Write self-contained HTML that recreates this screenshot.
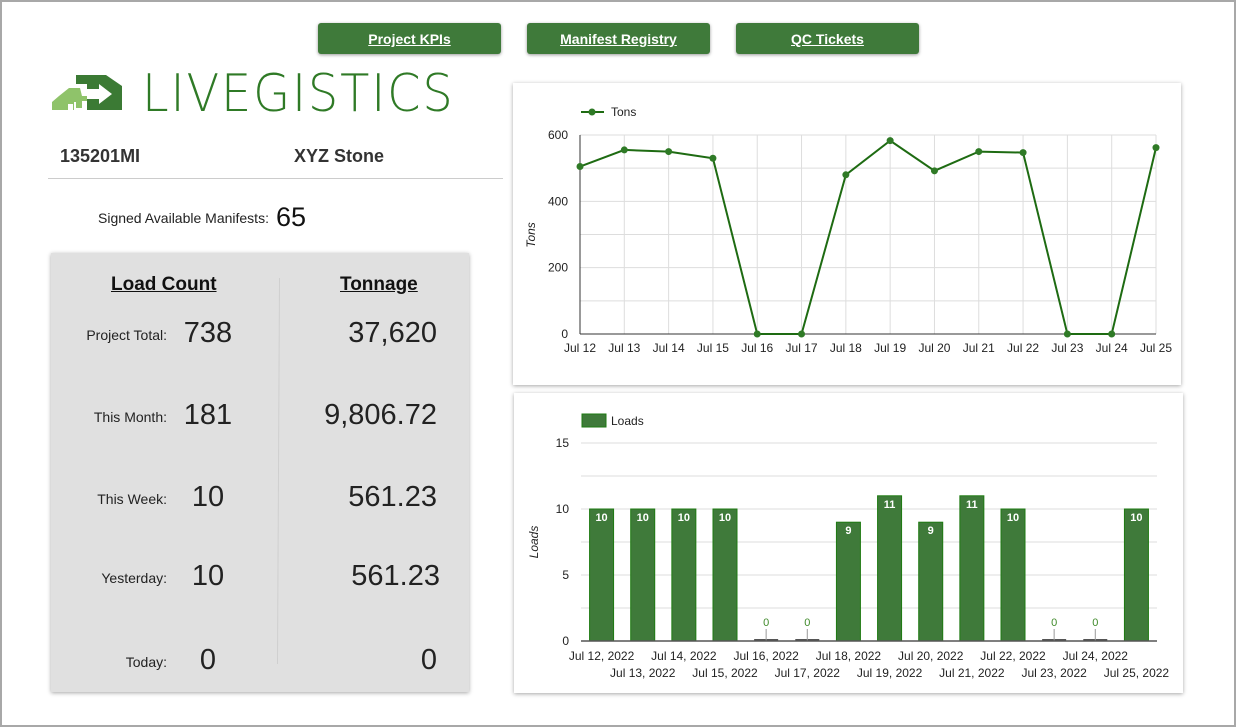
<!DOCTYPE html>
<html><head><meta charset="utf-8"><style>
body{margin:0;width:1239px;height:728px;overflow:hidden;background:#fff;font-family:"Liberation Sans",sans-serif;position:relative}
.frame{position:absolute;left:0;top:0;width:1232px;height:723px;border:2px solid #a8a8a8;border-top:2px solid #a8a8a8}
.btn{position:absolute;top:23px;width:183px;height:31px;background:#3f7a3a;border-radius:3px;box-shadow:0 1px 3px rgba(0,0,0,.4);color:#fff;font-weight:bold;font-size:14px;text-decoration:underline;text-align:center;line-height:33px}
.abs{position:absolute}
.card{position:absolute;background:#fff;box-shadow:0 1px 4px rgba(0,0,0,.35)}
.lbl{position:absolute;width:160px;text-align:right;font-size:14px;color:#222}
.val{position:absolute;width:100px;text-align:center;font-size:29px;color:#222}
.tval{position:absolute;width:200px;text-align:right;font-size:29px;color:#222}
</style></head><body>
<div class="frame"></div>
<div class="btn" style="left:318px">Project KPIs</div>
<div class="btn" style="left:527px">Manifest Registry</div>
<div class="btn" style="left:736px">QC Tickets</div>

<svg class="abs" style="left:52px;top:74px" width="75" height="40">
<polygon points="7,22 17,14 28,14 30,22 30,28 22,28 22,36 0,36 0,28" fill="#8fc36a"/>
<rect x="24" y="28" width="6" height="6" fill="#8fc36a"/><rect x="30" y="22" width="5" height="5" fill="#8fc36a"/><rect x="16" y="30" width="5" height="6" fill="#fff"/>
<polygon points="24,1 54,1 70,12 70,36 35,36 35,25 47,25 47,30 60,20 47,10 47,15 35,15 35,10 24,10" fill="#3b7a34"/>
</svg>
<div class="abs" style="left:142px;top:64px;font-size:52px;color:#2f7a26;letter-spacing:2px;font-family:'DejaVu Sans','Liberation Sans',sans-serif;font-weight:300;transform:scaleX(0.92);transform-origin:left">LIVEGISTICS</div>

<div class="abs" style="left:60px;top:146px;font-size:18px;font-weight:bold;color:#333">135201MI</div>
<div class="abs" style="left:294px;top:146px;font-size:18px;font-weight:bold;color:#333">XYZ Stone</div>
<div class="abs" style="left:48px;top:178px;width:455px;height:1px;background:#ccc"></div>
<div class="abs" style="left:98px;top:210px;font-size:14px;color:#222">Signed Available Manifests:</div>
<div class="abs" style="left:276px;top:202px;font-size:27px;color:#111">65</div>

<div class="abs" style="left:51px;top:253px;width:418px;height:439px;background:#e0e0e0;box-shadow:0 1px 4px rgba(0,0,0,.35)">
<div class="abs" style="left:227px;top:25px;width:1px;height:386px;background:#cfcfcf;transform:rotate(0.3deg)"></div>
<div class="abs" style="left:60px;top:21px;font-size:19px;font-weight:bold;text-decoration:underline;color:#111">Load Count</div>
<div class="abs" style="left:289px;top:21px;font-size:19px;font-weight:bold;text-decoration:underline;color:#111">Tonnage</div>
<div class="lbl" style="left:-44px;top:74px">Project Total:</div>
<div class="val" style="left:107px;top:64px">738</div>
<div class="tval" style="left:186px;top:64px">37,620</div>
<div class="lbl" style="left:-44px;top:156px">This Month:</div>
<div class="val" style="left:107px;top:146px">181</div>
<div class="tval" style="left:186px;top:146px">9,806.72</div>
<div class="lbl" style="left:-44px;top:238px">This Week:</div>
<div class="val" style="left:107px;top:228px">10</div>
<div class="tval" style="left:186px;top:228px">561.23</div>
<div class="lbl" style="left:-44px;top:317px">Yesterday:</div>
<div class="val" style="left:107px;top:307px">10</div>
<div class="tval" style="left:189px;top:307px">561.23</div>
<div class="lbl" style="left:-44px;top:401px">Today:</div>
<div class="val" style="left:107px;top:391px">0</div>
<div class="tval" style="left:186px;top:391px">0</div>
</div>

<div class="card" style="left:513px;top:83px;width:668px;height:302px"></div>
<div class="card" style="left:514px;top:393px;width:669px;height:300px"></div>
<svg class="abs" style="left:0;top:0" width="1239" height="728" id="charts" font-family="Liberation Sans, sans-serif"></svg>

<script>
const tonDates = ["Jul 12","Jul 13","Jul 14","Jul 15","Jul 16","Jul 17","Jul 18","Jul 19","Jul 20","Jul 21","Jul 22","Jul 23","Jul 24","Jul 25"];
const tonValues = [505,555,550,530,0,0,480,583,492,550,547,0,0,562];
const tonTicks = [0,200,400,600];
const loadDates = ["Jul 12, 2022","Jul 13, 2022","Jul 14, 2022","Jul 15, 2022","Jul 16, 2022","Jul 17, 2022","Jul 18, 2022","Jul 19, 2022","Jul 20, 2022","Jul 21, 2022","Jul 22, 2022","Jul 23, 2022","Jul 24, 2022","Jul 25, 2022"];
const loadValues = [10,10,10,10,0,0,9,11,9,11,10,0,0,10];
const loadTicks = [0,5,10,15];

const NS="http://www.w3.org/2000/svg";
const svg=document.getElementById('charts');
function mk(tag,attrs,parent,text){const e=document.createElementNS(NS,tag);for(const k in attrs)e.setAttribute(k,attrs[k]);if(text!==undefined)e.textContent=text;(parent||svg).appendChild(e);return e;}

// Line chart
const lx0=580,lx1=1156,ly0=334,ly1=135,lmax=600;
const lx=i=>lx0+i*(lx1-lx0)/(tonDates.length-1);
const ly=v=>ly0-(v/lmax)*(ly0-ly1);
const g1=mk('g',{});


for(let v=0;v<=lmax;v+=100){const l=mk('line',{x1:lx0,x2:lx1,y1:ly(v),y2:ly(v),stroke:'#ddd','stroke-width':1},g1);}
tonDates.forEach((d,i)=>{const l=mk('line',{x1:lx(i),x2:lx(i),y1:ly1,y2:ly0,stroke:'#ddd'},g1);
 const t=mk('text',{x:lx(i),y:352,'font-size':12,'text-anchor':'middle',fill:'#222'},g1,d);});
tonTicks.forEach(v=>{const t=mk('text',{x:568,y:ly(v)+4,'font-size':12,'text-anchor':'end',fill:'#222'},g1,v);});
mk('line',{x1:lx0,x2:lx0,y1:ly1,y2:ly0,stroke:'#333'},g1);
mk('line',{x1:lx0,x2:lx1,y1:ly0,y2:ly0,stroke:'#333'},g1);
const yt=mk('text',{x:0,y:0,'font-size':12,'font-style':'italic','text-anchor':'middle',fill:'#222',transform:'translate(535,235) rotate(-90)'},g1,'Tons');

const pl=mk('polyline',{points:tonValues.map((v,i)=>lx(i)+','+ly(v)).join(' '),fill:'none',stroke:'#1e6b12','stroke-width':2},g1);

tonValues.forEach((v,i)=>{const c=mk('circle',{cx:lx(i),cy:ly(v),r:3.5,fill:'#2f7a26'},g1);});
mk('line',{x1:581,x2:604,y1:112,y2:112,stroke:'#1e6b12','stroke-width':2},g1);
mk('circle',{cx:592,cy:112,r:3.5,fill:'#2f7a26'},g1);
const lg=mk('text',{x:611,y:116,'font-size':12,fill:'#222'},g1,'Tons');

// Bar chart
const bx0=581,bx1=1157,by0=641,by1=443,bmax=15;
const step=(bx1-bx0)/loadDates.length;
const bc=i=>bx0+step*(i+0.5);
const by=v=>by0-(v/bmax)*(by0-by1);
const g2=mk('g',{});


for(let v=0;v<=bmax;v+=2.5){const l=mk('line',{x1:bx0,x2:bx1,y1:by(v),y2:by(v),stroke:'#ddd'},g2);}
loadTicks.forEach(v=>{const t=mk('text',{x:569,y:by(v)+4,'font-size':12,'text-anchor':'end',fill:'#222'},g2,v);});
const yt2=mk('text',{x:0,y:0,'font-size':12,'font-style':'italic','text-anchor':'middle',fill:'#222',transform:'translate(538,542) rotate(-90)'},g2,'Loads');

loadValues.forEach((v,i)=>{
 const x=bc(i)-12;
 if(v>0){
  const r=mk('rect',{x:x,y:by(v),width:24,height:by0-by(v),fill:'#3f7a3a',stroke:'#1e7a12','stroke-width':1},g2);
  
  const t=mk('text',{x:bc(i),y:by(v)+12,'font-size':11,'font-weight':'bold','text-anchor':'middle',fill:'#fff'},g2,v);
  
 } else {
  const r=mk('rect',{x:x,y:by0-2,width:24,height:2,fill:'#555'},g2);
  
  mk('line',{x1:bc(i),x2:bc(i),y1:by0-12,y2:by0,stroke:'#999'},g2);
  const t=mk('text',{x:bc(i),y:by0-15,'font-size':11,'text-anchor':'middle',fill:'#3f8a2a'},g2,v);
  
 }
 const t=mk('text',{x:bc(i),y:i%2?677:660,'font-size':12,'text-anchor':'middle',fill:'#222'},g2,loadDates[i]);
 
});
mk('line',{x1:bx0,x2:bx1,y1:by0,y2:by0,stroke:'#555','stroke-width':1.5},g2);
mk('rect',{x:582,y:414,width:24,height:13,fill:'#3f7a3a',stroke:'#1e7a12'},g2);
const lg2=mk('text',{x:611,y:425,'font-size':12,fill:'#222'},g2,'Loads');
</script>
</body></html>
